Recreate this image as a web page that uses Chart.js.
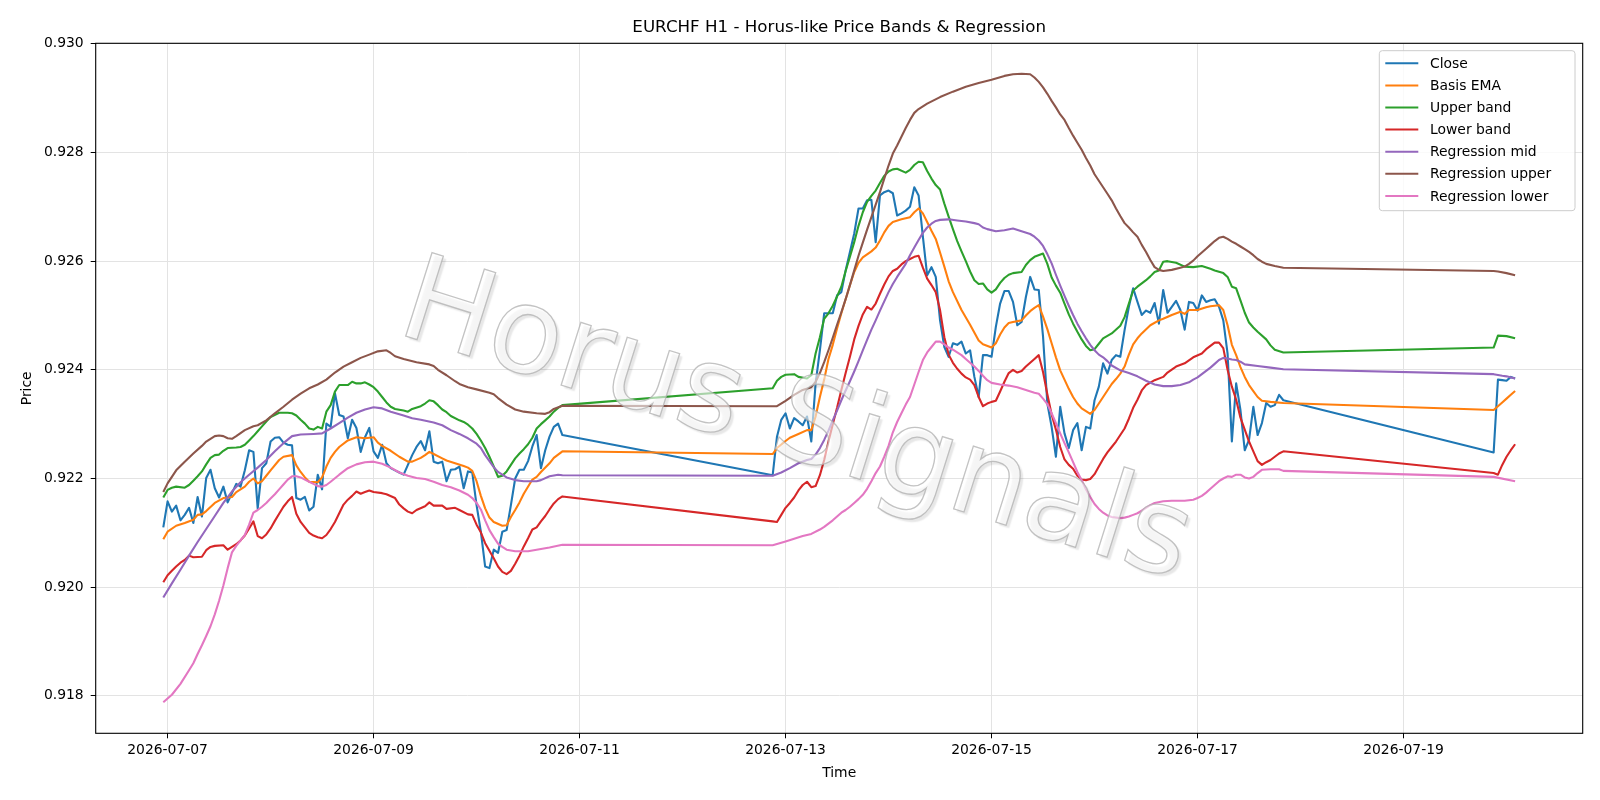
<!DOCTYPE html>
<html>
<head>
<meta charset="utf-8">
<title>EURCHF H1 - Horus-like Price Bands &amp; Regression</title>
<script src="https://cdn.jsdelivr.net/npm/chart.js@4.4.1/dist/chart.umd.min.js"></script>
<style>
  html, body { margin: 0; padding: 0; background: #fff; }
  #wrap { width: 1600px; height: 800px; }
</style>
</head>
<body>
<div id="wrap"><canvas id="bandsChart"></canvas></div>
<script>
// x = hours since 2026-07-07 00:00, one bar per hour (H1), weekend gaps left empty
const tickHours = [0, 48, 96, 144, 192, 240, 288];
const tickLabels = ['2026-07-07', '2026-07-09', '2026-07-11', '2026-07-13', '2026-07-15', '2026-07-17', '2026-07-19'];
const priceTicks = [0.918, 0.920, 0.922, 0.924, 0.926, 0.928, 0.930];

const seriesLabels = ['Close', 'Basis EMA', 'Upper band', 'Lower band', 'Regression mid', 'Regression upper', 'Regression lower'];
const seriesColors = ['#1f77b4', '#ff7f0e', '#2ca02c', '#d62728', '#9467bd', '#8c564b', '#e377c2'];

const close = [
  [-1,0.92110],[0,0.92158],[1,0.92139],[2,0.92150],[3,0.92123],[4,0.92133],[5,0.92146],[6,0.92118],[7,0.92166],[8,0.92130],
  [9,0.92201],[10,0.92216],[11,0.92182],[12,0.92165],[13,0.92185],[14,0.92156],[15,0.92173],[16,0.92190],[17,0.92185],[18,0.92215],
  [19,0.92252],[20,0.92249],[21,0.92145],[22,0.92219],[23,0.92228],[24,0.92268],[25,0.92275],[26,0.92276],[27,0.92266],[28,0.92262],
  [29,0.92261],[30,0.92164],[31,0.92161],[32,0.92166],[33,0.92141],[34,0.92148],[35,0.92207],[36,0.92180],[37,0.92301],[38,0.92295],
  [39,0.92357],[40,0.92317],[41,0.92314],[42,0.92274],[43,0.92308],[44,0.92293],[45,0.92249],[46,0.92276],[47,0.92293],[48,0.92250],
  [49,0.92238],[50,0.92262],[51,0.92228],[52,0.92219],[53,0.92215],[54,0.92211],[55,0.92207],[56,0.92225],[57,0.92243],[58,0.92258],
  [59,0.92269],[60,0.92252],[61,0.92287],[62,0.92231],[63,0.92228],[64,0.92231],[65,0.92195],[66,0.92216],[67,0.92217],[68,0.92222],
  [69,0.92182],[70,0.92213],[71,0.92211],[72,0.92151],[73,0.92102],[74,0.92038],[75,0.92035],[76,0.92069],[77,0.92063],[78,0.92102],
  [79,0.92105],[80,0.92151],[81,0.92200],[82,0.92216],[83,0.92216],[84,0.92232],[85,0.92259],[86,0.92280],[87,0.92219],[88,0.92252],
  [89,0.92277],[90,0.92295],[91,0.92301],[92,0.92280],
  [141,0.92206],[142,0.92277],[143,0.92308],[144,0.92320],[145,0.92292],[146,0.92311],[147,0.92305],[148,0.92298],[149,0.92314],[150,0.92268],
  [151,0.92375],[152,0.92436],[153,0.92504],[154,0.92504],[155,0.92504],[156,0.92537],[157,0.92543],[158,0.92583],[159,0.92617],[160,0.92651],
  [161,0.92697],[162,0.92697],[163,0.92712],[164,0.92713],[165,0.92635],[166,0.92721],[167,0.92727],[168,0.92730],[169,0.92725],[170,0.92684],
  [171,0.92688],[172,0.92693],[173,0.92700],[174,0.92736],[175,0.92721],[176,0.92645],[177,0.92574],[178,0.92589],[179,0.92571],[180,0.92491],
  [181,0.92442],[182,0.92424],[183,0.92449],[184,0.92446],[185,0.92452],[186,0.92430],[187,0.92436],[188,0.92387],[189,0.92350],[190,0.92427],
  [191,0.92427],[192,0.92424],[193,0.92479],[194,0.92522],[195,0.92545],[196,0.92545],[197,0.92525],[198,0.92482],[199,0.92488],[200,0.92534],
  [201,0.92571],[202,0.92548],[203,0.92547],[204,0.92461],[205,0.92338],[206,0.92295],[207,0.92240],[208,0.92332],[209,0.92283],[210,0.92256],
  [211,0.92289],[212,0.92302],[213,0.92252],[214,0.92295],[215,0.92292],[216,0.92344],[217,0.92369],[218,0.92412],[219,0.92393],[220,0.92418],
  [221,0.92427],[222,0.92424],[223,0.92473],[224,0.92516],[225,0.92550],[226,0.92525],[227,0.92501],[228,0.92509],[229,0.92505],[230,0.92523],
  [231,0.92485],[232,0.92547],[233,0.92505],[234,0.92516],[235,0.92527],[236,0.92510],[237,0.92474],[238,0.92525],[239,0.92523],[240,0.92509],
  [241,0.92537],[242,0.92525],[243,0.92528],[244,0.92530],[245,0.92516],[246,0.92491],[247,0.92430],[248,0.92268],[249,0.92375],[250,0.92326],
  [251,0.92252],[252,0.92271],[253,0.92332],[254,0.92280],[255,0.92302],[256,0.92339],[257,0.92332],[258,0.92335],[259,0.92354],[260,0.92344],
  [309,0.92248],[310,0.92382],[311,0.92381],[312,0.92380],[313,0.92387],[314,0.92384]
];

const basisEma = [
  [-1,0.92088],[0,0.92102],[2,0.92113],[4,0.92118],[6,0.92124],[7,0.92133],[8,0.92134],[9,0.92140],[11,0.92155],[13,0.92164],
  [15,0.92166],[16,0.92175],[18,0.92185],[19,0.92194],[20,0.92200],[21,0.92191],[22,0.92195],[23,0.92205],[24,0.92215],[26,0.92234],
  [27,0.92240],[29,0.92243],[30,0.92224],[31,0.92212],[32,0.92202],[33,0.92194],[35,0.92193],[36,0.92202],[37,0.92222],[38,0.92238],
  [39,0.92249],[40,0.92258],[42,0.92270],[44,0.92276],[46,0.92274],[48,0.92276],[49,0.92266],[50,0.92260],[52,0.92251],[54,0.92240],
  [56,0.92231],[57,0.92231],[59,0.92238],[60,0.92243],[61,0.92249],[62,0.92245],[64,0.92237],[65,0.92233],[67,0.92228],[69,0.92223],
  [70,0.92220],[71,0.92214],[72,0.92195],[73,0.92168],[74,0.92145],[75,0.92128],[76,0.92120],[78,0.92113],[79,0.92114],[80,0.92129],
  [81,0.92142],[82,0.92156],[83,0.92172],[85,0.92198],[86,0.92203],[87,0.92212],[89,0.92228],[90,0.92238],[92,0.92250],
  [141,0.92245],[142,0.92256],[144,0.92269],[145,0.92275],[147,0.92282],[149,0.92289],[150,0.92289],[151,0.92314],[152,0.92350],[153,0.92382],
  [154,0.92420],[155,0.92446],[156,0.92476],[157,0.92504],[158,0.92530],[159,0.92556],[160,0.92580],[161,0.92597],[162,0.92607],[164,0.92618],
  [165,0.92625],[166,0.92638],[167,0.92653],[168,0.92665],[169,0.92672],[171,0.92677],[173,0.92681],[174,0.92690],[175,0.92697],[176,0.92688],
  [177,0.92672],[178,0.92656],[179,0.92641],[180,0.92616],[181,0.92590],[182,0.92563],[183,0.92543],[185,0.92510],[187,0.92483],[189,0.92454],
  [190,0.92447],[192,0.92441],[193,0.92449],[194,0.92465],[195,0.92478],[196,0.92486],[197,0.92488],[199,0.92491],[200,0.92500],[201,0.92508],
  [202,0.92514],[203,0.92519],[204,0.92498],[205,0.92475],[206,0.92449],[207,0.92423],[208,0.92399],[209,0.92382],[210,0.92365],[211,0.92350],
  [212,0.92338],[213,0.92329],[215,0.92319],[216,0.92326],[217,0.92338],[218,0.92350],[219,0.92362],[220,0.92374],[221,0.92383],[222,0.92393],
  [223,0.92406],[224,0.92428],[225,0.92447],[226,0.92458],[227,0.92467],[229,0.92482],[231,0.92491],[232,0.92494],[234,0.92501],[236,0.92507],
  [237,0.92503],[238,0.92510],[240,0.92510],[242,0.92515],[243,0.92517],[245,0.92519],[246,0.92510],[247,0.92482],[248,0.92446],[249,0.92427],
  [250,0.92405],[251,0.92387],[252,0.92372],[253,0.92361],[254,0.92350],[255,0.92343],[257,0.92341],[260,0.92339],
  [309,0.92326],[310,0.92333],[311,0.92340],[312,0.92347],[313,0.92354],[314,0.92361]
];

const upperBand = [
  [-1,0.92165],[0,0.92179],[1,0.92183],[2,0.92185],[4,0.92183],[5,0.92188],[6,0.92196],[7,0.92204],[8,0.92213],[9,0.92226],
  [10,0.92238],[11,0.92243],[12,0.92244],[13,0.92251],[14,0.92256],[16,0.92257],[17,0.92258],[18,0.92262],[19,0.92270],[20,0.92278],
  [21,0.92287],[22,0.92296],[23,0.92305],[24,0.92313],[26,0.92321],[28,0.92321],[29,0.92320],[30,0.92316],[31,0.92308],[32,0.92301],
  [33,0.92292],[34,0.92290],[35,0.92295],[36,0.92292],[37,0.92323],[38,0.92335],[39,0.92360],[40,0.92372],[42,0.92372],[43,0.92378],
  [44,0.92375],[45,0.92375],[46,0.92377],[47,0.92373],[48,0.92368],[49,0.92360],[50,0.92350],[51,0.92340],[52,0.92332],[53,0.92328],
  [55,0.92325],[56,0.92323],[57,0.92328],[59,0.92333],[60,0.92338],[61,0.92344],[62,0.92342],[63,0.92335],[64,0.92327],[65,0.92322],
  [66,0.92315],[68,0.92307],[69,0.92304],[70,0.92299],[71,0.92292],[72,0.92282],[73,0.92270],[74,0.92256],[75,0.92240],[76,0.92222],
  [77,0.92203],[78,0.92205],[79,0.92213],[80,0.92225],[81,0.92237],[82,0.92246],[83,0.92254],[84,0.92263],[85,0.92275],[86,0.92292],
  [87,0.92300],[88,0.92307],[89,0.92314],[90,0.92323],[91,0.92330],[92,0.92335],
  [141,0.92366],[142,0.92380],[143,0.92387],[144,0.92391],[146,0.92392],[147,0.92387],[149,0.92384],[150,0.92390],[151,0.92430],[152,0.92460],
  [153,0.92494],[154,0.92504],[155,0.92518],[156,0.92535],[157,0.92553],[158,0.92582],[159,0.92608],[160,0.92635],[161,0.92665],[162,0.92690],
  [163,0.92709],[164,0.92720],[165,0.92730],[166,0.92744],[167,0.92757],[168,0.92765],[169,0.92769],[170,0.92770],[172,0.92763],[173,0.92768],
  [174,0.92777],[175,0.92783],[176,0.92782],[177,0.92766],[178,0.92752],[179,0.92740],[180,0.92732],[181,0.92706],[182,0.92682],[183,0.92659],
  [184,0.92637],[185,0.92618],[186,0.92600],[187,0.92581],[188,0.92565],[189,0.92558],[190,0.92559],[191,0.92548],[192,0.92542],[193,0.92548],
  [194,0.92560],[195,0.92569],[196,0.92575],[197,0.92578],[199,0.92580],[200,0.92593],[201,0.92602],[202,0.92608],[204,0.92614],[205,0.92595],
  [206,0.92570],[207,0.92555],[208,0.92542],[209,0.92522],[210,0.92502],[211,0.92485],[212,0.92470],[213,0.92456],[214,0.92444],[215,0.92436],
  [216,0.92438],[217,0.92448],[218,0.92458],[220,0.92467],[222,0.92481],[223,0.92497],[224,0.92522],[225,0.92546],[226,0.92553],[227,0.92559],
  [228,0.92565],[229,0.92572],[230,0.92580],[231,0.92583],[232,0.92599],[233,0.92600],[235,0.92597],[237,0.92590],[239,0.92589],[241,0.92591],
  [243,0.92586],[244,0.92583],[246,0.92578],[247,0.92571],[248,0.92553],[249,0.92550],[250,0.92528],[251,0.92505],[252,0.92487],[253,0.92478],
  [254,0.92470],[256,0.92456],[257,0.92445],[258,0.92437],[260,0.92432],
  [309,0.92441],[310,0.92463],[312,0.92462],[314,0.92458]
];

const lowerBand = [
  [-1,0.92009],[0,0.92022],[1,0.92030],[2,0.92038],[3,0.92045],[4,0.92050],[5,0.92058],[6,0.92055],[8,0.92056],[9,0.92068],
  [10,0.92074],[11,0.92076],[13,0.92077],[14,0.92069],[15,0.92074],[16,0.92079],[17,0.92086],[18,0.92095],[19,0.92108],[20,0.92121],
  [21,0.92094],[22,0.92090],[23,0.92097],[24,0.92108],[25,0.92122],[26,0.92135],[27,0.92148],[28,0.92158],[29,0.92166],[30,0.92135],
  [31,0.92120],[32,0.92110],[33,0.92100],[34,0.92095],[35,0.92092],[36,0.92090],[37,0.92096],[38,0.92107],[39,0.92120],[40,0.92136],
  [41,0.92152],[42,0.92161],[43,0.92168],[44,0.92176],[45,0.92172],[46,0.92175],[47,0.92178],[48,0.92175],[50,0.92173],[51,0.92171],
  [53,0.92164],[54,0.92152],[55,0.92145],[56,0.92139],[57,0.92136],[58,0.92142],[60,0.92149],[61,0.92156],[62,0.92150],[64,0.92150],
  [65,0.92144],[67,0.92146],[68,0.92142],[70,0.92134],[71,0.92133],[72,0.92115],[73,0.92101],[74,0.92081],[75,0.92067],[76,0.92053],
  [77,0.92038],[78,0.92028],[79,0.92024],[80,0.92030],[81,0.92043],[82,0.92058],[83,0.92075],[84,0.92090],[85,0.92106],[86,0.92110],
  [87,0.92121],[88,0.92131],[89,0.92143],[90,0.92154],[91,0.92162],[92,0.92167],
  [141,0.92121],[142,0.92120],[143,0.92133],[144,0.92146],[145,0.92155],[146,0.92165],[147,0.92178],[148,0.92188],[149,0.92194],[150,0.92184],
  [151,0.92186],[152,0.92206],[153,0.92234],[154,0.92268],[155,0.92300],[156,0.92330],[157,0.92363],[158,0.92394],[159,0.92424],[160,0.92456],
  [161,0.92481],[162,0.92502],[163,0.92516],[164,0.92511],[165,0.92522],[166,0.92540],[167,0.92557],[168,0.92572],[169,0.92582],[170,0.92586],
  [171,0.92594],[172,0.92600],[173,0.92604],[174,0.92608],[175,0.92610],[176,0.92588],[177,0.92568],[178,0.92556],[179,0.92543],[180,0.92510],
  [181,0.92460],[182,0.92428],[183,0.92413],[184,0.92402],[185,0.92393],[186,0.92386],[187,0.92382],[188,0.92372],[189,0.92350],[190,0.92333],
  [191,0.92338],[192,0.92341],[193,0.92343],[194,0.92360],[195,0.92378],[196,0.92394],[197,0.92400],[198,0.92395],[199,0.92398],[200,0.92406],
  [201,0.92413],[202,0.92420],[203,0.92427],[204,0.92396],[205,0.92355],[206,0.92318],[207,0.92290],[208,0.92258],[209,0.92235],[210,0.92225],
  [211,0.92218],[212,0.92205],[213,0.92198],[214,0.92197],[215,0.92199],[216,0.92208],[217,0.92222],[218,0.92236],[219,0.92248],[220,0.92258],
  [221,0.92268],[222,0.92280],[223,0.92292],[224,0.92310],[225,0.92330],[226,0.92345],[227,0.92362],[228,0.92372],[230,0.92381],[232,0.92387],
  [233,0.92395],[235,0.92406],[237,0.92412],[239,0.92423],[241,0.92430],[242,0.92438],[244,0.92450],[245,0.92450],[246,0.92440],[247,0.92400],
  [248,0.92369],[249,0.92345],[250,0.92312],[251,0.92290],[252,0.92268],[253,0.92250],[254,0.92232],[255,0.92225],[256,0.92230],[257,0.92234],
  [258,0.92240],[259,0.92246],[260,0.92250],
  [309,0.92210],[310,0.92207],[311,0.92225],[312,0.92240],[313,0.92252],[314,0.92263]
];

const regMid = [
  [-1,0.91981],[1,0.92007],[3,0.92032],[5,0.92058],[7,0.92083],[9,0.92107],[11,0.92131],[13,0.92155],[15,0.92176],[17,0.92193],
  [19,0.92207],[21,0.92220],[23,0.92234],[25,0.92250],[27,0.92265],[29,0.92278],[31,0.92281],[34,0.92282],[36,0.92283],[38,0.92292],
  [40,0.92302],[42,0.92312],[44,0.92321],[46,0.92327],[48,0.92331],[50,0.92329],[52,0.92323],[55,0.92316],[57,0.92311],[59,0.92308],
  [62,0.92303],[64,0.92298],[66,0.92289],[68,0.92282],[70,0.92274],[72,0.92264],[73,0.92256],[74,0.92243],[75,0.92232],[76,0.92221],
  [77,0.92212],[79,0.92202],[81,0.92197],[83,0.92195],[86,0.92195],[87,0.92197],[89,0.92204],[91,0.92207],[92,0.92206],
  [141,0.92205],[143,0.92211],[145,0.92219],[147,0.92228],[149,0.92234],[150,0.92236],[151,0.92244],[152,0.92256],[153,0.92271],[154,0.92288],
  [155,0.92307],[156,0.92325],[157,0.92344],[158,0.92362],[159,0.92379],[160,0.92397],[161,0.92416],[162,0.92436],[163,0.92455],[164,0.92474],
  [165,0.92491],[166,0.92509],[167,0.92526],[168,0.92543],[169,0.92558],[170,0.92571],[171,0.92583],[172,0.92595],[173,0.92611],[174,0.92625],
  [175,0.92639],[176,0.92652],[177,0.92662],[178,0.92669],[179,0.92674],[180,0.92676],[182,0.92677],[184,0.92675],[186,0.92673],[188,0.92670],
  [189,0.92668],[190,0.92662],[191,0.92659],[193,0.92655],[195,0.92657],[197,0.92660],[199,0.92655],[201,0.92650],[202,0.92645],[203,0.92638],
  [204,0.92628],[205,0.92613],[206,0.92596],[207,0.92575],[208,0.92555],[209,0.92536],[210,0.92518],[211,0.92501],[212,0.92485],[213,0.92471],
  [214,0.92458],[215,0.92446],[216,0.92436],[217,0.92428],[218,0.92423],[219,0.92416],[220,0.92408],[222,0.92399],[224,0.92394],[226,0.92388],
  [228,0.92380],[230,0.92373],[232,0.92370],[234,0.92370],[236,0.92372],[238,0.92377],[239,0.92382],[240,0.92386],[241,0.92392],[242,0.92398],
  [243,0.92404],[244,0.92411],[245,0.92418],[246,0.92422],[247,0.92421],[248,0.92419],[249,0.92418],[250,0.92415],[251,0.92410],[254,0.92407],
  [257,0.92404],[260,0.92401],
  [309,0.92392],[311,0.92389],[312,0.92388],[314,0.92384]
];

const regUpper = [
  [-1,0.92175],[0,0.92191],[2,0.92215],[4,0.92231],[6,0.92246],[8,0.92260],[9,0.92268],[11,0.92278],[12,0.92279],[13,0.92278],
  [14,0.92274],[15,0.92273],[16,0.92278],[18,0.92289],[20,0.92296],[21,0.92298],[23,0.92307],[25,0.92320],[27,0.92332],[29,0.92345],
  [31,0.92356],[33,0.92366],[35,0.92373],[37,0.92382],[39,0.92395],[41,0.92406],[43,0.92414],[45,0.92422],[47,0.92428],[49,0.92434],
  [51,0.92436],[52,0.92431],[53,0.92425],[55,0.92420],[58,0.92414],[61,0.92410],[62,0.92407],[63,0.92400],[65,0.92390],[67,0.92379],
  [68,0.92374],[70,0.92368],[72,0.92364],[75,0.92358],[76,0.92355],[77,0.92348],[79,0.92336],[81,0.92327],[83,0.92323],[86,0.92320],
  [88,0.92319],[89,0.92322],[90,0.92328],[92,0.92334],
  [141,0.92333],[142,0.92333],[144,0.92343],[146,0.92354],[148,0.92363],[150,0.92368],[151,0.92378],[152,0.92394],[153,0.92414],[154,0.92436],
  [155,0.92459],[156,0.92483],[157,0.92506],[158,0.92530],[159,0.92556],[160,0.92583],[161,0.92610],[162,0.92634],[163,0.92658],[164,0.92681],
  [165,0.92704],[166,0.92727],[167,0.92752],[168,0.92776],[169,0.92798],[170,0.92813],[171,0.92829],[172,0.92845],[173,0.92860],[174,0.92873],
  [175,0.92880],[177,0.92890],[180,0.92902],[183,0.92912],[186,0.92921],[189,0.92928],[192,0.92934],[195,0.92941],[197,0.92944],[199,0.92945],
  [201,0.92944],[202,0.92938],[203,0.92930],[204,0.92920],[205,0.92908],[206,0.92895],[207,0.92883],[208,0.92870],[209,0.92860],[210,0.92845],
  [211,0.92831],[212,0.92818],[213,0.92805],[214,0.92790],[215,0.92776],[216,0.92760],[217,0.92748],[218,0.92736],[219,0.92724],[220,0.92712],
  [221,0.92697],[222,0.92683],[223,0.92670],[224,0.92662],[225,0.92653],[226,0.92645],[227,0.92630],[228,0.92617],[229,0.92602],[230,0.92589],
  [231,0.92584],[232,0.92582],[234,0.92584],[236,0.92588],[237,0.92590],[238,0.92595],[239,0.92601],[240,0.92609],[241,0.92616],[242,0.92623],
  [243,0.92630],[244,0.92637],[245,0.92643],[246,0.92645],[247,0.92641],[248,0.92636],[249,0.92632],[250,0.92627],[251,0.92622],[252,0.92617],
  [253,0.92611],[254,0.92604],[255,0.92599],[256,0.92595],[258,0.92591],[260,0.92588],
  [309,0.92582],[310,0.92581],[312,0.92578],[314,0.92574]
];

const regLower = [
  [-1,0.91788],[1,0.91802],[3,0.91822],[5,0.91847],[6,0.91860],[7,0.91877],[8,0.91893],[9,0.91910],[10,0.91928],[11,0.91950],
  [12,0.91975],[13,0.92003],[14,0.92035],[15,0.92064],[16,0.92076],[17,0.92086],[18,0.92096],[19,0.92115],[20,0.92137],[21,0.92142],
  [22,0.92148],[23,0.92155],[24,0.92163],[25,0.92171],[26,0.92180],[27,0.92189],[28,0.92198],[29,0.92204],[30,0.92204],[31,0.92202],
  [32,0.92198],[33,0.92194],[34,0.92190],[35,0.92186],[36,0.92185],[37,0.92188],[38,0.92194],[40,0.92207],[42,0.92219],[44,0.92226],
  [46,0.92230],[48,0.92231],[50,0.92227],[52,0.92220],[54,0.92211],[56,0.92205],[58,0.92201],[60,0.92199],[62,0.92194],[64,0.92188],
  [66,0.92184],[68,0.92178],[70,0.92170],[71,0.92164],[72,0.92155],[73,0.92143],[74,0.92123],[75,0.92105],[76,0.92092],[77,0.92080],
  [78,0.92074],[79,0.92069],[81,0.92066],[84,0.92066],[86,0.92069],[89,0.92073],[92,0.92078],
  [141,0.92077],[144,0.92084],[148,0.92094],[150,0.92098],[152,0.92106],[153,0.92111],[154,0.92117],[155,0.92123],[156,0.92130],[157,0.92137],
  [158,0.92142],[159,0.92148],[160,0.92155],[161,0.92162],[162,0.92170],[163,0.92181],[164,0.92195],[165,0.92210],[166,0.92222],[167,0.92240],
  [168,0.92260],[169,0.92285],[170,0.92304],[171,0.92320],[172,0.92336],[173,0.92350],[174,0.92373],[175,0.92396],[176,0.92418],[177,0.92432],
  [178,0.92442],[179,0.92452],[180,0.92452],[181,0.92447],[182,0.92441],[183,0.92437],[184,0.92432],[185,0.92427],[186,0.92420],[187,0.92413],
  [188,0.92406],[189,0.92398],[190,0.92389],[191,0.92381],[192,0.92376],[194,0.92373],[196,0.92371],[198,0.92368],[200,0.92363],[202,0.92358],
  [203,0.92356],[204,0.92347],[205,0.92337],[206,0.92320],[207,0.92302],[208,0.92283],[209,0.92265],[210,0.92248],[211,0.92230],[212,0.92212],
  [213,0.92197],[214,0.92180],[215,0.92166],[216,0.92153],[217,0.92144],[218,0.92137],[219,0.92132],[220,0.92129],[222,0.92127],[223,0.92128],
  [224,0.92130],[225,0.92133],[226,0.92136],[227,0.92141],[228,0.92146],[229,0.92151],[230,0.92155],[232,0.92158],[234,0.92159],[237,0.92159],
  [239,0.92161],[240,0.92164],[241,0.92168],[242,0.92174],[243,0.92181],[244,0.92188],[245,0.92195],[246,0.92200],[247,0.92204],[248,0.92203],
  [249,0.92207],[250,0.92207],[251,0.92202],[252,0.92200],[253,0.92203],[254,0.92210],[255,0.92216],[257,0.92217],[259,0.92217],[260,0.92214],
  [309,0.92203],[314,0.92195]
];

const allSeries = [close, basisEma, upperBand, lowerBand, regMid, regUpper, regLower];
const FONT = '"DejaVu Sans", "Liberation Sans", sans-serif';

// title, axis labels, frame, watermark and legend drawn like the matplotlib original
const figureText = {
  id: 'figureText',
  afterDatasetsDraw(chart) {
    const { ctx, chartArea: a } = chart;
    ctx.save();
    ctx.strokeStyle = '#000';
    ctx.lineWidth = 1.1;
    ctx.strokeRect(a.left, a.top, a.right - a.left, a.bottom - a.top);

    // watermark: outlined letters with a soft drop shadow
    ctx.translate(786, 456);
    ctx.rotate(17.5 * Math.PI / 180);
    ctx.font = '120px ' + FONT;
    ctx.textAlign = 'center';
    ctx.textBaseline = 'alphabetic';
    ctx.shadowColor = 'rgba(0,0,0,0.16)';
    ctx.shadowOffsetX = 3;
    ctx.shadowOffsetY = 3;
    ctx.shadowBlur = 1.5;
    ctx.fillStyle = 'rgba(255,255,255,0.6)';
    ctx.fillText('Horus Signals', 0, 0);
    ctx.shadowColor = 'transparent';
    ctx.strokeStyle = 'rgba(175,175,175,0.75)';
    ctx.lineWidth = 1.3;
    ctx.strokeText('Horus Signals', 0, 0);
    ctx.restore();
  },
  afterDraw(chart) {
    const { ctx, chartArea: a } = chart;
    const midX = (a.left + a.right) / 2;
    ctx.save();
    ctx.fillStyle = '#000';
    ctx.textAlign = 'center';
    ctx.textBaseline = 'alphabetic';
    ctx.font = '16.7px ' + FONT;
    ctx.fillText('EURCHF H1 - Horus-like Price Bands & Regression', midX, 32);
    ctx.font = '13.9px ' + FONT;
    ctx.fillText('Time', midX, 777);
    ctx.save();
    ctx.translate(31, (a.top + a.bottom) / 2);
    ctx.rotate(-Math.PI / 2);
    ctx.fillText('Price', 0, 0);
    ctx.restore();

    // legend, upper right inside the axes
    const lx = a.right - 203.4, ly = a.top + 7.4, lw = 195.7, lh = 160;
    ctx.beginPath();
    ctx.roundRect(lx, ly, lw, lh, 3);
    ctx.fillStyle = 'rgba(255,255,255,0.8)';
    ctx.fill();
    ctx.strokeStyle = '#cccccc';
    ctx.lineWidth = 1;
    ctx.stroke();
    ctx.textAlign = 'left';
    ctx.textBaseline = 'middle';
    seriesLabels.forEach((label, i) => {
      const y = ly + 12.6 + i * 22.1;
      ctx.strokeStyle = seriesColors[i];
      ctx.lineWidth = 2;
      ctx.beginPath();
      ctx.moveTo(lx + 6, y);
      ctx.lineTo(lx + 39, y);
      ctx.stroke();
      ctx.fillStyle = '#000';
      ctx.fillText(label, lx + 50.7, y + 1);
    });
    ctx.restore();
  }
};

new Chart(document.getElementById('bandsChart'), {
  type: 'line',
  data: {
    datasets: allSeries.map((s, i) => ({
      label: seriesLabels[i],
      data: s.map(p => ({ x: p[0], y: p[1] })),
      borderColor: seriesColors[i],
      backgroundColor: seriesColors[i],
      borderWidth: 2.1,
      borderJoinStyle: 'round',
      pointRadius: 0,
      tension: 0,
      fill: false,
      order: allSeries.length - i
    }))
  },
  options: {
    responsive: true,
    maintainAspectRatio: false,
    animation: false,
    parsing: false,
    events: [],
    layout: { padding: { top: 43.3, right: 17.3, bottom: 0, left: 0 } },
    plugins: {
      legend: { display: false },
      tooltip: { enabled: false },
      title: { display: false }
    },
    scales: {
      x: {
        type: 'linear',
        min: -16.75,
        max: 329.75,
        afterBuildTicks: axis => { axis.ticks = tickHours.map(v => ({ value: v })); },
        afterFit: axis => { axis.height = 66.7; },
        ticks: {
          callback: (v, i) => tickLabels[i],
          color: '#000',
          font: { family: FONT, size: 13.9 },
          maxRotation: 0,
          autoSkip: false,
          padding: 4
        },
        grid: { color: '#e3e3e3', lineWidth: 1, tickColor: '#000', tickLength: 5 },
        border: { display: false }
      },
      y: {
        type: 'linear',
        min: 0.91731,
        max: 0.93001,
        afterBuildTicks: axis => { axis.ticks = priceTicks.map(v => ({ value: v })); },
        afterFit: axis => { axis.width = 95.7; },
        ticks: {
          callback: v => v.toFixed(3),
          color: '#000',
          font: { family: FONT, size: 13.9 },
          padding: 7
        },
        grid: { color: '#e3e3e3', lineWidth: 1, tickColor: '#000', tickLength: 5 },
        border: { display: false }
      }
    }
  },
  plugins: [figureText]
});
</script>
</body>
</html>
